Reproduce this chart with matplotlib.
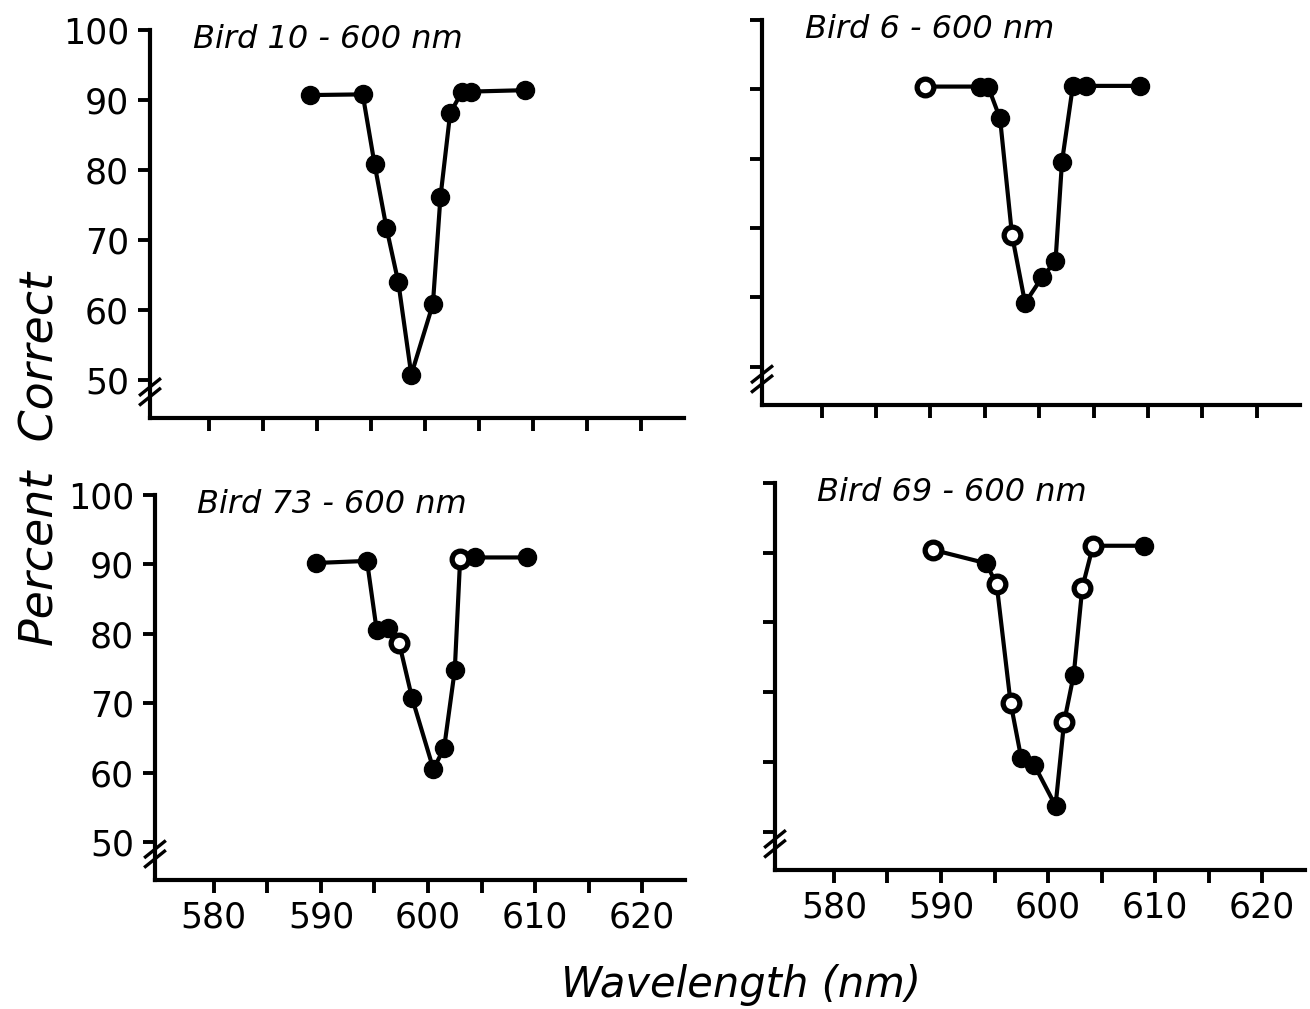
import numpy as np
import matplotlib.pyplot as plt

# ---- data (wavelength nm, percent correct)
# open = True where the scanned marker is a hollow circle
B10_X = [589.3, 594.2, 595.3, 596.4, 597.5, 598.7, 600.7, 601.4, 602.3, 603.4, 604.2, 609.2]
B10_Y = [90.7, 90.8, 80.8, 71.7, 63.9, 50.7, 60.8, 76.1, 88.1, 91.2, 91.2, 91.4]
B10_OPEN = [False] * 12

B6_X = [589.5, 594.6, 595.3, 596.4, 597.5, 598.7, 600.3, 601.5, 602.1, 603.1, 604.3, 609.3]
B6_Y = [90.4, 90.4, 90.4, 85.8, 69.0, 59.2, 63.0, 65.2, 79.6, 90.5, 90.5, 90.5]
B6_OPEN = [True, False, False, False, True, False, False, False, False, False, False, False]

B73_X = [589.5, 594.3, 595.2, 596.3, 597.3, 598.5, 600.5, 601.5, 602.5, 603.0, 604.4, 609.2]
B73_Y = [90.2, 90.5, 80.6, 80.8, 78.7, 70.8, 60.5, 63.5, 74.8, 90.8, 91.0, 91.0]
B73_OPEN = [False, False, False, False, True, False, False, False, False, True, False, False]

B69_X = [589.3, 594.2, 595.2, 596.5, 597.5, 598.7, 600.7, 601.5, 602.4, 603.2, 604.2, 609.0]
B69_Y = [90.4, 88.5, 85.5, 68.5, 60.5, 59.6, 53.7, 65.7, 72.5, 85.0, 91.0, 91.0]
B69_OPEN = [True, False, True, True, False, False, False, True, False, True, True, False]

TITLES = ["Bird 10 - 600 nm", "Bird 6 - 600 nm", "Bird 73 - 600 nm", "Bird 69 - 600 nm"]
X_TICKS = [580, 585, 590, 595, 600, 605, 610, 615, 620]
X_LABELS = ["580", "", "590", "", "600", "", "610", "", "620"]
Y_TICKS = [50, 60, 70, 80, 90, 100]

plt.rcParams['font.family'] = ['DejaVu Sans']

fig = plt.figure(figsize=(13.1, 10.09), dpi=100)

# panel boxes in figure fraction: left, bottom, width, height
boxes = [
    [0.1145, 0.5857, 0.408, 0.3845],
    [0.5817, 0.5986, 0.4107, 0.3816],
    [0.1183, 0.1278, 0.4046, 0.3816],
    [0.5916, 0.1378, 0.4046, 0.3835],
]
panels = [(B10_X, B10_Y, B10_OPEN), (B6_X, B6_Y, B6_OPEN),
          (B73_X, B73_Y, B73_OPEN), (B69_X, B69_Y, B69_OPEN)]

for k, (box, (xs, ys, op)) in enumerate(zip(boxes, panels)):
    ax = fig.add_axes(box)
    xs = np.array(xs); ys = np.array(ys); op = np.array(op)
    ax.plot(xs, ys, '-', color='k', lw=3.0, zorder=2)
    ax.plot(xs[~op], ys[~op], 'o', color='k', ms=13, zorder=3)
    ax.plot(xs[op], ys[op], 'o', mfc='white', mec='k', mew=3.8, ms=12, zorder=3)

    ax.set_xlim(574.5, 624)
    ax.set_ylim(44.5, 100)
    for s in ('top', 'right'):
        ax.spines[s].set_visible(False)
    for s in ('left', 'bottom'):
        ax.spines[s].set_linewidth(3.0)

    ax.set_xticks(X_TICKS)
    ax.set_yticks(Y_TICKS)
    ax.tick_params(direction='out', length=9, width=2.8, labelsize=25, pad=6)
    if k >= 2:
        ax.set_xticklabels(X_LABELS)
    else:
        ax.set_xticklabels([])
    if k % 2 == 1:
        ax.set_yticklabels([])

    # axis break marks just above the corner
    for dy in (0.0, 0.025):
        ax.plot([-0.018, 0.018], [0.035 + dy, 0.075 + dy], color='k', lw=2.4,
                transform=ax.transAxes, clip_on=False)

    ax.text(0.08, 0.975, TITLES[k], transform=ax.transAxes, fontsize=23,
            fontstyle='italic', ha='left', va='center')

fig.text(0.031, 0.545, "Percent  Correct", rotation=90, fontsize=33,
         fontstyle='italic', ha='center', va='center')
fig.text(0.566, 0.024, "Wavelength (nm)", fontsize=30, fontstyle='italic',
         ha='center', va='center')

fig.savefig("out.png", dpi=100)
